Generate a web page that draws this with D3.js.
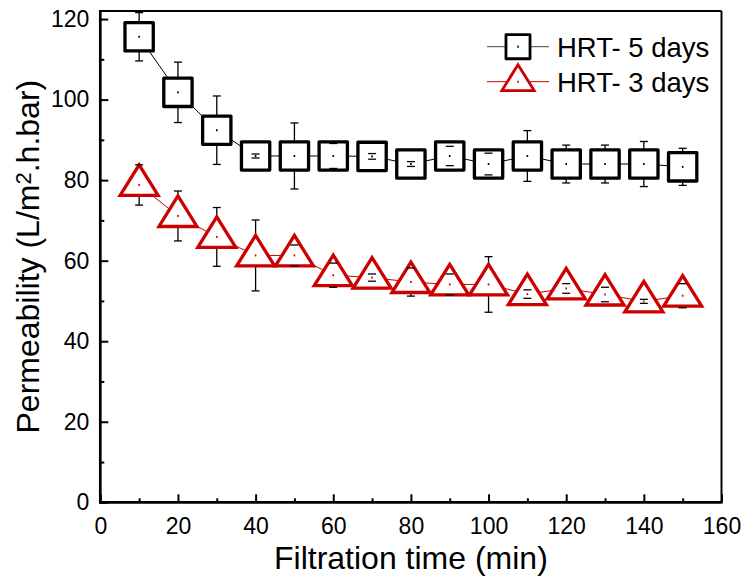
<!DOCTYPE html>
<html>
<head>
<meta charset="utf-8">
<script src="https://cdn.jsdelivr.net/npm/d3@7"></script>
<style>
  html, body { margin: 0; padding: 0; background: #fff; }
  svg { display: block; font-family: "Liberation Sans", Arial, sans-serif; }
</style>
</head>
<body>
<svg id="chart" width="748" height="582"></svg>
<script>
// ---- data ----
const times = [10, 20, 30, 40, 50, 60, 70, 80, 90, 100, 110, 120, 130, 140, 150];
const hrt5 = [115.6, 101.8, 92.4, 86.0, 86.0, 86.0, 85.9, 84.0, 86.0, 84.0, 86.0, 84.0, 84.0, 84.0, 83.3];
const hrt5Err = [6.0, 7.5, 8.5, 0.5, 8.2, 3.1, 0.7, 0.6, 2.4, 2.7, 6.3, 4.7, 4.7, 5.6, 4.6];
const hrt3 = [78.8, 71.1, 65.9, 61.3, 61.3, 56.4, 55.8, 54.7, 54.1, 54.1, 51.7, 53.1, 51.6, 49.9, 51.3];
const hrt3Err = [5.0, 6.2, 7.3, 8.8, 2.6, 3.0, 0.9, 3.5, 2.6, 6.9, 1.05, 1.2, 1.8, 0.5, 3.0];
const seriesNames = ["HRT- 5 days", "HRT- 3 days"];
const xTicks = [0, 20, 40, 60, 80, 100, 120, 140, 160];
const xMinorTicks = [10, 30, 50, 70, 90, 110, 130, 150];
const yTicks = [0, 20, 40, 60, 80, 100, 120];
const yMinorTicks = [10, 30, 50, 70, 90, 110];
const xTitle = "Filtration time (min)";

// ---- layout ----
const svg = d3.select("#chart");
const L = 100.3, R = 721.5, T = 11, B = 502.3;
const x = d3.scaleLinear().domain([0, 160]).range([L, R]);
const y = d3.scaleLinear().domain([0, 122]).range([B, T]);
const RED = "#cc0000";

// axes
const gx = svg.append("g").attr("transform", `translate(0,${B})`)
  .call(d3.axisBottom(x).tickValues(xTicks).tickSize(-8).tickPadding(15).tickFormat(d3.format("d")));
const gxm = svg.append("g").attr("transform", `translate(0,${B})`)
  .call(d3.axisBottom(x).tickValues(xMinorTicks).tickSize(-4).tickFormat(""));
const gy = svg.append("g").attr("transform", `translate(${L},0)`)
  .call(d3.axisLeft(y).tickValues(yTicks).tickSize(-8).tickPadding(11).tickFormat(d3.format("d")));
const gym = svg.append("g").attr("transform", `translate(${L},0)`)
  .call(d3.axisLeft(y).tickValues(yMinorTicks).tickSize(-4).tickFormat(""));
[gx, gxm, gy, gym].forEach(g => {
  g.select(".domain").remove();
  g.selectAll(".tick line").attr("stroke", "#000").attr("stroke-width", 2);
  g.selectAll(".tick text").attr("fill", "#000").style("font-size", "23px")
    .style("font-family", "'Liberation Sans', Arial, sans-serif");
});

// frame
svg.append("line").attr("x1", L).attr("x2", R).attr("y1", T).attr("y2", T).attr("stroke", "#000").attr("stroke-width", 2);
svg.append("line").attr("x1", R).attr("x2", R).attr("y1", T).attr("y2", B).attr("stroke", "#000").attr("stroke-width", 2);
svg.append("line").attr("x1", L).attr("x2", L).attr("y1", T - 1).attr("y2", B + 1.3).attr("stroke", "#000").attr("stroke-width", 2.7);
svg.append("line").attr("x1", L - 1.3).attr("x2", R + 1).attr("y1", B).attr("y2", B).attr("stroke", "#000").attr("stroke-width", 2.7);

// axis titles
svg.append("text").attr("x", (L + R) / 2).attr("y", 569).attr("text-anchor", "middle")
  .style("font-size", "32px").attr("fill", "#000").text(xTitle);
const yt = svg.append("text").attr("transform", `translate(38.5,${(T + B) / 2}) rotate(-90)`)
  .attr("text-anchor", "middle").style("font-size", "32px").attr("fill", "#000");
yt.append("tspan").text("Permeability (L/m");
yt.append("tspan").attr("dy", -7.5).style("font-size", "22px").text("2");
yt.append("tspan").attr("dy", 7.5).text(".h.bar)");

// symbol paths
function squarePath(s) { const h = 14.15 * s; return `M${-h},${-h}H${h}V${h}H${-h}Z`; }
function triPath(s) { return `M0,${-20 * s}L${19 * s},${10.5 * s}L${-19 * s},${10.5 * s}Z`; }

const series = [
  { name: seriesNames[0], vals: hrt5, errs: hrt5Err, color: "#000", path: squarePath },
  { name: seriesNames[1], vals: hrt3, errs: hrt3Err, color: RED, path: triPath }
];

series.forEach(s => {
  const pts = times.map((t, i) => ({ t, v: s.vals[i], e: s.errs[i] }));
  const g = svg.append("g");
  // connecting line
  g.append("path").datum(pts)
    .attr("d", d3.line().x(d => x(d.t)).y(d => y(d.v)))
    .attr("fill", "none").attr("stroke", s.color).attr("stroke-width", 1);
  // error stems (behind markers)
  g.selectAll(".stem").data(pts).join("line").attr("class", "stem")
    .attr("x1", d => x(d.t)).attr("x2", d => x(d.t))
    .attr("y1", d => y(d.v + d.e)).attr("y2", d => y(d.v - d.e))
    .attr("stroke", "#000").attr("stroke-width", 1.3);
  // markers
  g.selectAll(".mk").data(pts).join("path").attr("class", "mk")
    .attr("transform", d => `translate(${x(d.t)},${y(d.v)})`)
    .attr("d", s.path(1))
    .attr("fill", "#fff").attr("stroke", s.color).attr("stroke-width", 3.3)
    .attr("stroke-linejoin", s.path === squarePath ? "round" : "miter");
  // caps
  [1, -1].forEach(sign => {
    g.selectAll(".cap" + sign).data(pts).join("line").attr("class", "cap" + sign)
      .attr("x1", d => x(d.t) - 4).attr("x2", d => x(d.t) + 4)
      .attr("y1", d => y(d.v + sign * d.e)).attr("y2", d => y(d.v + sign * d.e))
      .attr("stroke", "#000").attr("stroke-width", 1.3);
  });
  // center dots
  g.selectAll(".dot").data(pts).join("rect").attr("class", "dot")
    .attr("x", d => x(d.t) - 0.8).attr("y", d => y(d.v) - 1)
    .attr("width", 1.6).attr("height", 2).attr("fill", s.color);
});

// legend
const legY = [46.7, 81.7];
series.forEach((s, i) => {
  const g = svg.append("g").attr("transform", `translate(518,${legY[i]})`);
  g.append("line").attr("x1", -31).attr("x2", 31).attr("y1", 0).attr("y2", 0)
    .attr("stroke", i === 0 ? "#444" : s.color).attr("stroke-width", 1);
  g.append("path").attr("d", s.path(0.85)).attr("fill", "#fff").attr("stroke", s.color)
    .attr("stroke-width", 2.8).attr("stroke-linejoin", s.path === squarePath ? "round" : "miter");
  g.append("rect").attr("x", -0.8).attr("y", -1).attr("width", 1.6).attr("height", 2).attr("fill", s.color);
  svg.append("text").attr("x", 557).attr("y", legY[i] + 10).style("font-size", "27.5px")
    .attr("fill", "#000").text(s.name);
});
</script>
</body>
</html>
